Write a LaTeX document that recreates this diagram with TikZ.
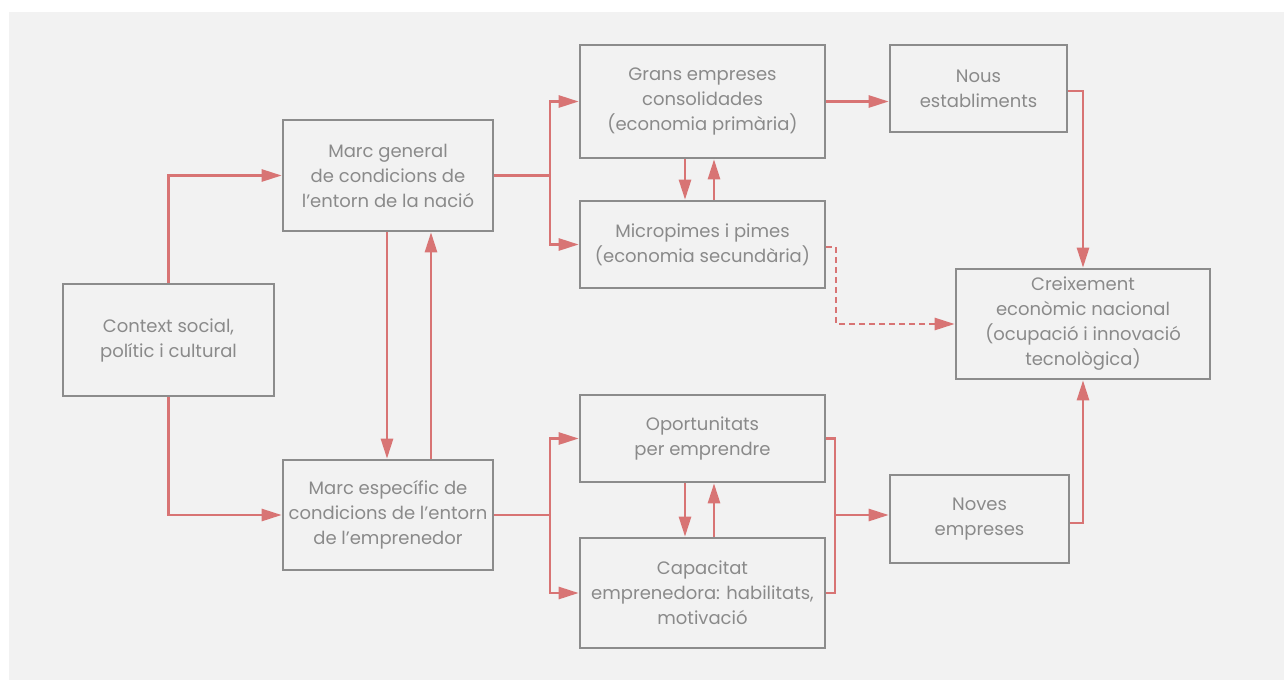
\documentclass[tikz,border=0pt]{standalone}
\usepackage{fontspec}
\setmainfont{Poppins}
\usetikzlibrary{arrows.meta,calc}
\definecolor{bggray}{HTML}{F2F2F2}
\definecolor{boxgray}{HTML}{8C8C8C}
\definecolor{txtgray}{HTML}{8A8A8A}
\definecolor{arrred}{HTML}{D87474}
\tikzset{
  box/.style={draw=boxgray, line width=2.6pt, align=center, text=txtgray,
    inner sep=0pt, font=\fontsize{18}{25}\selectfont},
  conn/.style={draw=arrred, line width=2.6pt},
  arr/.style={conn, -{Triangle[length=20pt,width=12pt]}},
  dashconn/.style={arr, dash pattern=on 6pt off 4pt},
}
\begin{document}
\begin{tikzpicture}[x=1pt,y=-1pt]
\useasboundingbox (0,0) rectangle (1284,680);
\fill[bggray] (9,12) rectangle (1284,680);

\node[box, minimum width=211pt, minimum height=112pt] (ctx) at (168.5,340) {Context social,\\ polític i cultural};
\node[box, minimum width=210pt, minimum height=111pt] (mg) at (388,175.5) {Marc general\\ de condicions de\\ l’entorn de la nació};
\node[box, minimum width=210pt, minimum height=110pt] (me) at (388,515) {Marc específic de\\ condicions de l’entorn\\ de l’emprenedor};
\node[box, minimum width=245pt, minimum height=113pt] (gr) at (702.5,101.5) {Grans empreses\\ consolidades\\ (economia primària)};
\node[box, minimum width=245pt, minimum height=87pt] (mp) at (702.5,244.5) {Micropimes i pimes\\ (economia secundària)};
\node[box, minimum width=177pt, minimum height=87pt] (ns) at (978.5,88.5) {Nous\\ establiments};
\node[box, minimum width=254pt, minimum height=110pt] (cr) at (1083,324) {Creixement\\ econòmic nacional\\ (ocupació i innovació\\ tecnològica)};
\node[box, minimum width=245pt, minimum height=87pt] (op) at (702.5,438.5) {Oportunitats\\ per emprendre};
\node[box, minimum width=245pt, minimum height=110pt] (ca) at (702.5,593) {Capacitat\\ emprenedora: habilitats,\\ motivació};
\node[box, minimum width=179pt, minimum height=88pt] (nv) at (979.5,519) {Noves\\ empreses};

% context to marcs
\draw[arr] (ctx.north) |- (mg.west);
\draw[arr] (ctx.south) |- (me.west);
% marc general <-> marc especific
\draw[arr] ([xshift=-1pt]mg.south) -- ([xshift=-1pt]me.north);
\draw[arr] ([xshift=43pt]me.north) -- ([xshift=43pt]mg.south);
% marc general branches
\coordinate (b1) at (550,175.5);
\draw[conn] (mg.east) -- (b1);
\draw[arr] (b1) |- (gr.west);
\draw[arr] (b1) |- (mp.west);
% grans <-> micropimes
\draw[arr] ([xshift=-17.5pt]gr.south) -- ([xshift=-17.5pt]mp.north);
\draw[arr] ([xshift=11.5pt]mp.north) -- ([xshift=11.5pt]gr.south);
% grans -> nous
\draw[arr] (gr.east) -- (gr.east -| ns.west);
% nous -> creixement
\draw[arr] ([yshift=-2.5pt]ns.east) -| (cr.north);
% micropimes dashed -> creixement
\coordinate (d1) at (836,247);
\draw[conn, dash pattern=on 6pt off 4pt] ([yshift=-2.5pt]mp.east) -- (d1);
\draw[dashconn] (d1) |- (cr.west);
% marc especific branches
\coordinate (b2) at (550,515);
\draw[conn] (me.east) -- (b2);
\draw[arr] (b2) |- (op.west);
\draw[arr] (b2) |- (ca.west);
% oportunitats <-> capacitat
\draw[arr] ([xshift=-17.5pt]op.south) -- ([xshift=-17.5pt]ca.north);
\draw[arr] ([xshift=11.5pt]ca.north) -- ([xshift=11.5pt]op.south);
% bracket to noves
\coordinate (b3t) at (835,438.5);
\coordinate (b3b) at (835,593);
\coordinate (b3) at (835,515);
\draw[conn] (op.east) -- (b3t) -- (b3b) -- (ca.east);
\draw[arr] (b3) -- (b3 -| nv.west);
% noves -> creixement
\draw[arr] ([yshift=-4pt]nv.east) -| (cr.south);
\end{tikzpicture}
\end{document}
